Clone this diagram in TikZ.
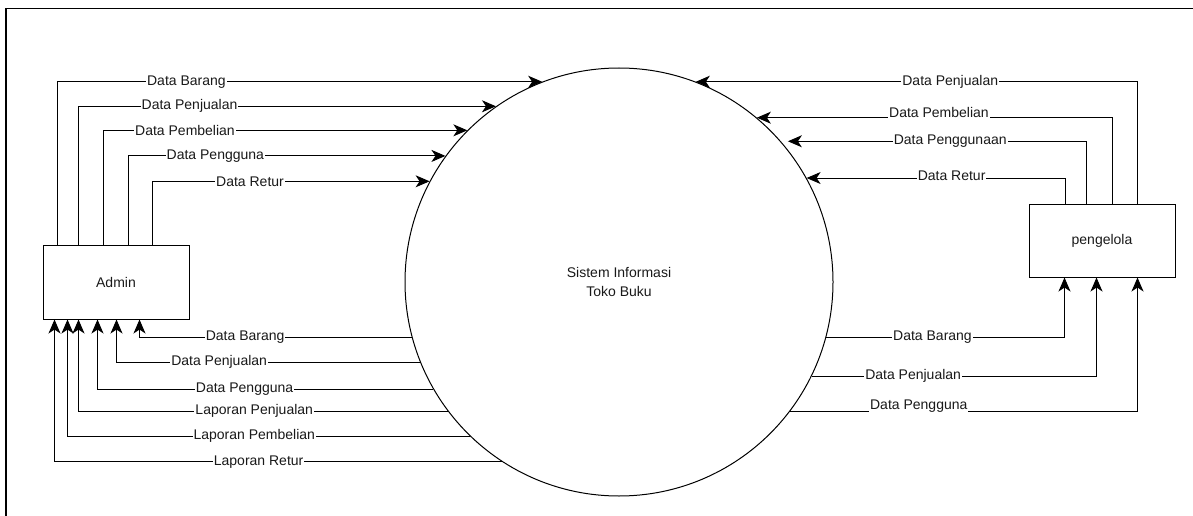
\documentclass[tikz,border=0pt]{standalone}
\usepackage{fontspec}
\setmainfont{Liberation Sans}
\usetikzlibrary{arrows.meta}

\tikzset{
  entity/.style={draw,minimum width=146pt,minimum height=74pt,inner sep=0pt},
  process/.style={draw,circle,minimum size=428pt,inner sep=0pt,align=center},
  lbl/.style={fill=white,inner sep=1pt},
  flow/.style={-{Stealth[length=14pt,width=12pt,inset=4pt]}},
}

\begin{document}
\begin{tikzpicture}[x=1pt,y=-1pt,line width=1pt,text=black!90,font=\fontsize{14pt}{19pt}\selectfont]
\useasboundingbox (0,0) rectangle (1193,516);
% page edge
\draw[line width=1.5pt] (6,516) -- (6,8.5) -- (1193,8.5);

\node[process] (sys) at (619,282) {Sistem Informasi\\Toko Buku};
\node[entity] (admin) at (116,282) {Admin};
\node[entity,minimum height=73pt] (pengelola) at (1102,240.5) {pengelola};

% admin -> sistem
\draw[flow] ([xshift=15pt]admin.north west) |- (sys.111) node[lbl,pos=0.633] {Data Barang};
\draw[flow] ([xshift=36pt]admin.north west) |- (sys.125) node[lbl,pos=0.633] {Data Penjualan};
\draw[flow] ([xshift=61pt]admin.north west) |- (sys.135) node[lbl,pos=0.612] {Data Pembelian};
\draw[flow] ([xshift=86pt]admin.north west) |- (sys.144) node[lbl,pos=0.637] {Data Pengguna};
\draw[flow] ([xshift=110pt]admin.north west) |- (sys.152) node[lbl,pos=0.676] {Data Retur};

% pengelola -> sistem
\draw[flow] ([xshift=109pt]pengelola.north west) |- (sys.69) node[lbl,pos=0.712] {Data Penjualan};
\draw[flow] ([xshift=84pt]pengelola.north west) |- (sys.50) node[lbl,pos=0.744,yshift=5pt] {Data Pembelian};
\draw[flow,shorten >=7pt] ([xshift=58pt]pengelola.north west) |- (sys.41) node[lbl,pos=0.723] {Data Penggunaan};
\draw[flow] ([xshift=37pt]pengelola.north west) |- (sys.29) node[lbl,pos=0.72,yshift=2pt] {Data Retur};

% sistem -> admin
\draw[flow] (sys.195) -| ([xshift=97pt]admin.south west) node[lbl,pos=0.306] {Data Barang};
\draw[flow] (sys.202) -| ([xshift=74pt]admin.south west) node[lbl,pos=0.331] {Data Penjualan};
\draw[flow] (sys.210) -| ([xshift=55pt]admin.south west) node[lbl,pos=0.281] {Data Pengguna};
\draw[flow] (sys.217) -| ([xshift=36pt]admin.south west) node[lbl,pos=0.262] {Laporan Penjualan};
\draw[flow] (sys.226) -| ([xshift=25pt]admin.south west) node[lbl,pos=0.268] {Laporan Pembelian};
\draw[flow] (sys.237) -| ([xshift=12pt]admin.south west) node[lbl,pos=0.272] {Laporan Retur};

% sistem -> pengelola
\draw[flow] (sys.345) -| ([xshift=36pt]pengelola.south west) node[lbl,pos=0.223] {Data Barang};
\draw[flow] (sys.334) -| ([xshift=68pt]pengelola.south west) node[lbl,pos=0.178] {Data Penjualan};
\draw[flow] (sys.323) -| ([xshift=109pt]pengelola.south west) node[lbl,pos=0.185,yshift=5pt] {Data Pengguna};
\end{tikzpicture}
\end{document}
